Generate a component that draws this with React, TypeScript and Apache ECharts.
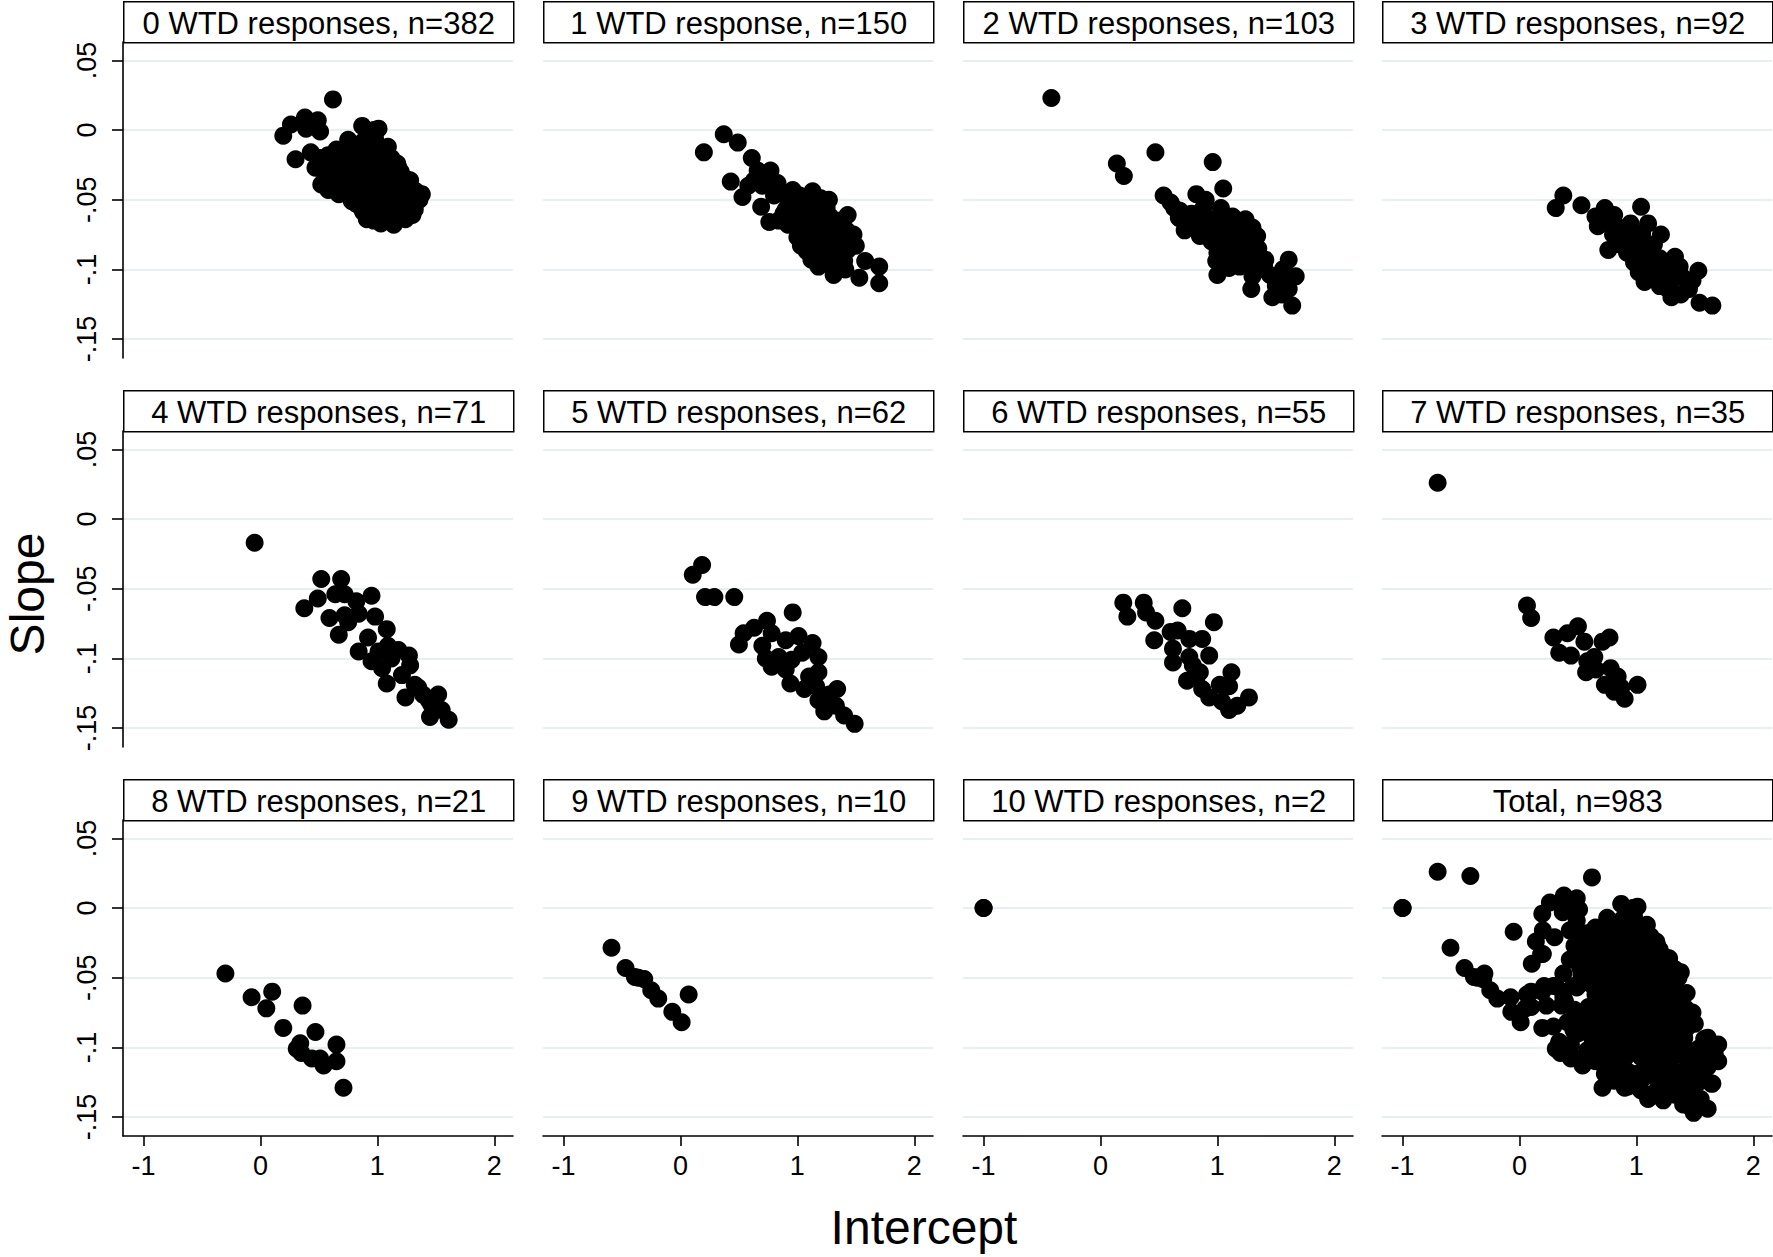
import { useRef, useEffect } from 'react'
import * as echarts from 'echarts'

// ── data: (intercept, slope) per number of WTD responses ──────────
const panelTitles = [
  '0 WTD responses, n=382', '1 WTD response, n=150', '2 WTD responses, n=103', '3 WTD responses, n=92',
  '4 WTD responses, n=71', '5 WTD responses, n=62', '6 WTD responses, n=55', '7 WTD responses, n=35',
  '8 WTD responses, n=21', '9 WTD responses, n=10', '10 WTD responses, n=2', 'Total, n=983',
]

const xTicks = [-1, 0, 1, 2]
const yTicks = [-0.15, -0.1, -0.05, 0, 0.05]

const wtd0: [number, number][] = [
  [0.62, 0.022], [0.195, -0.004], [0.26, 0.004], [0.38, 0.009], [0.49, 0.007], [0.39, 0.001], [0.51, -0.001],
  [0.30, -0.021], [0.43, -0.016], [0.51, -0.020], [0.47, -0.027], [0.65, -0.014], [0.75, -0.007], [0.87, 0.003],
  [1.01, 0.001], [1.09, -0.012], [1.18, -0.027], [1.28, -0.036], [1.38, -0.046], [1.32, -0.057], [1.24, -0.064],
  [1.14, -0.068], [0.91, -0.064], [0.87, -0.057], [0.58, -0.043], [0.52, -0.039], [0.67, -0.046], [0.78, -0.048],
  [0.92, -0.005], [0.98, -0.006], [0.80, -0.012], [0.90, -0.013], [1.00, -0.011],
  [0.66, -0.022], [0.75, -0.019], [0.85, -0.021], [0.95, -0.018], [1.05, -0.022], [1.12, -0.020],
  [0.55, -0.031], [0.63, -0.029], [0.72, -0.030], [0.82, -0.028], [0.92, -0.031], [1.02, -0.029], [1.10, -0.032], [1.20, -0.030],
  [0.62, -0.037], [0.71, -0.039], [0.80, -0.038], [0.90, -0.040], [0.99, -0.037], [1.08, -0.039], [1.17, -0.038], [1.26, -0.041],
  [0.72, -0.045], [0.84, -0.047], [0.95, -0.046], [1.04, -0.048], [1.13, -0.045], [1.22, -0.047], [1.31, -0.049],
  [0.82, -0.053], [0.93, -0.055], [1.02, -0.054], [1.11, -0.056], [1.20, -0.053], [1.28, -0.055],
  [0.97, -0.061], [1.05, -0.063], [1.12, -0.060], [1.19, -0.062], [1.30, -0.061], [1.03, -0.067], [0.97, -0.065],
  [0.60, -0.025], [0.70, -0.025], [0.80, -0.024], [0.90, -0.025], [1.00, -0.024], [1.10, -0.026], [1.17, -0.024],
  [0.58, -0.034], [0.68, -0.034], [0.77, -0.033], [0.87, -0.035], [0.96, -0.034], [1.06, -0.035], [1.15, -0.034], [1.24, -0.035],
  [0.67, -0.042], [0.76, -0.043], [0.86, -0.042], [0.95, -0.041], [1.05, -0.043], [1.14, -0.042], [1.23, -0.044], [1.33, -0.044],
  [0.78, -0.051], [0.88, -0.051], [0.98, -0.050], [1.08, -0.051], [1.17, -0.050], [1.26, -0.051], [1.36, -0.050],
  [0.88, -0.059], [0.98, -0.058], [1.08, -0.058], [1.16, -0.058], [1.25, -0.059],
  [0.85, -0.016], [0.95, -0.015], [1.05, -0.016], [0.88, -0.008], [0.97, 0.000], [0.70, -0.016], [0.58, -0.018],
]

const wtd1: [number, number][] = [
  [0.20, -0.016], [0.37, -0.003], [0.49, -0.009], [0.61, -0.020], [0.66, -0.029], [0.77, -0.029], [0.43, -0.037],
  [0.53, -0.048], [0.70, -0.040], [0.83, -0.038], [0.69, -0.055], [0.76, -0.066], [0.90, -0.057], [0.96, -0.043],
  [1.13, -0.044], [1.27, -0.050], [1.43, -0.061], [1.48, -0.075], [1.50, -0.083], [1.03, -0.083], [1.18, -0.098],
  [1.31, -0.104], [1.53, -0.106], [1.58, -0.094], [1.70, -0.098], [1.70, -0.110], [1.41, -0.100],
  [0.63, -0.036], [0.74, -0.034], [0.80, -0.047], [0.84, -0.065],
  [0.92, -0.050], [1.02, -0.047], [1.10, -0.052], [1.20, -0.049],
  [0.88, -0.060], [0.98, -0.058], [1.08, -0.061], [1.18, -0.059], [1.28, -0.062],
  [0.92, -0.068], [1.02, -0.070], [1.12, -0.067], [1.22, -0.071], [1.33, -0.069], [1.42, -0.072],
  [1.00, -0.077], [1.10, -0.079], [1.20, -0.076], [1.30, -0.080], [1.40, -0.078],
  [1.08, -0.087], [1.18, -0.085], [1.27, -0.089], [1.38, -0.088], [1.12, -0.093], [1.23, -0.095], [1.35, -0.094],
  [0.95, -0.054], [1.05, -0.056], [1.15, -0.055], [1.25, -0.056], [0.97, -0.064], [1.07, -0.065], [1.17, -0.064],
  [1.27, -0.066], [1.37, -0.065], [1.05, -0.074], [1.15, -0.073], [1.25, -0.075], [1.35, -0.074], [1.45, -0.079],
  [1.13, -0.083], [1.23, -0.081], [1.33, -0.084], [1.43, -0.086], [1.18, -0.091], [1.30, -0.099], [1.40, -0.094],
  [0.58, -0.040], [0.85, -0.045],
]

const wtd2: [number, number][] = [
  [-0.42, 0.023], [0.14, -0.024], [0.20, -0.033], [0.47, -0.016], [0.96, -0.023], [0.54, -0.047], [0.63, -0.056],
  [0.72, -0.072], [0.67, -0.063], [0.82, -0.046], [1.05, -0.042], [0.90, -0.050], [1.03, -0.056], [1.13, -0.062],
  [1.24, -0.064], [1.34, -0.076], [0.85, -0.076], [0.99, -0.094], [1.00, -0.104], [1.29, -0.114], [1.41, -0.093],
  [1.47, -0.120], [1.61, -0.093], [1.67, -0.105], [1.64, -0.126], [1.61, -0.114], [1.53, -0.107], [1.19, -0.098],
  [1.30, -0.105],
  [0.78, -0.060], [0.88, -0.062], [0.97, -0.064], [1.06, -0.066], [1.17, -0.068],
  [0.80, -0.068], [0.92, -0.071], [1.02, -0.073], [1.12, -0.072], [1.22, -0.074], [1.30, -0.070],
  [0.95, -0.080], [1.05, -0.082], [1.15, -0.081], [1.25, -0.083], [1.35, -0.085],
  [1.00, -0.088], [1.10, -0.090], [1.20, -0.089], [1.30, -0.092], [1.40, -0.098],
  [1.10, -0.099], [1.50, -0.112], [1.56, -0.100],
  [0.85, -0.066], [0.95, -0.068], [1.08, -0.069], [0.88, -0.056], [1.00, -0.077], [1.10, -0.077], [1.20, -0.078],
  [1.30, -0.079], [1.05, -0.093], [1.15, -0.094], [1.25, -0.096], [1.35, -0.100], [1.45, -0.104], [1.55, -0.118],
  [1.60, -0.106], [0.68, -0.058], [0.75, -0.066], [0.60, -0.052],
]

const wtd3: [number, number][] = [
  [0.375, -0.047], [0.31, -0.056], [0.53, -0.054], [0.73, -0.056], [0.81, -0.061], [0.67, -0.069], [0.76, -0.086],
  [1.04, -0.055], [1.10, -0.067], [0.95, -0.067], [1.21, -0.075], [0.90, -0.079], [0.98, -0.095], [1.07, -0.109],
  [1.33, -0.091], [1.37, -0.098], [1.53, -0.101], [1.45, -0.114], [1.30, -0.120], [1.54, -0.124], [1.65, -0.126],
  [1.18, -0.107], [1.13, -0.088],
  [0.85, -0.070], [0.72, -0.064], [0.80, -0.075], [0.98, -0.078], [1.05, -0.080], [1.00, -0.086], [1.08, -0.090],
  [1.20, -0.092], [1.25, -0.100], [1.12, -0.100], [1.02, -0.102], [1.20, -0.112], [1.30, -0.108], [1.40, -0.106],
  [1.38, -0.118], [0.92, -0.088],
  [0.95, -0.072], [1.05, -0.074], [0.88, -0.073], [0.85, -0.082], [0.95, -0.083], [1.15, -0.082], [1.15, -0.095],
  [1.05, -0.095], [1.30, -0.100], [1.25, -0.113], [1.48, -0.108], [0.65, -0.062], [0.78, -0.068],
]

const wtd4: [number, number][] = [
  [-0.05, -0.017], [0.52, -0.043], [0.69, -0.043], [0.49, -0.057], [0.375, -0.064], [0.64, -0.054], [0.72, -0.054],
  [0.82, -0.059], [0.95, -0.055], [0.59, -0.071], [0.72, -0.069], [0.75, -0.074], [0.84, -0.068], [0.98, -0.070],
  [0.67, -0.083], [1.08, -0.079], [0.92, -0.085], [0.84, -0.095], [0.95, -0.102], [1.09, -0.091], [1.18, -0.094],
  [1.27, -0.098], [1.28, -0.105], [1.08, -0.118], [1.21, -0.112], [1.24, -0.128], [1.35, -0.121], [1.39, -0.126],
  [1.52, -0.126], [1.46, -0.133], [1.55, -0.137], [1.45, -0.142], [1.61, -0.144], [1.04, -0.107], [1.01, -0.095],
  [1.12, -0.100], [1.32, -0.119], [1.44, -0.130],
]

const wtd5: [number, number][] = [
  [0.185, -0.033], [0.105, -0.040], [0.21, -0.056], [0.29, -0.056], [0.46, -0.056], [0.96, -0.067], [0.74, -0.073],
  [0.63, -0.078], [0.54, -0.082], [0.50, -0.090], [0.78, -0.082], [0.90, -0.087], [1.01, -0.084], [0.70, -0.091],
  [1.13, -0.089], [1.18, -0.099], [0.73, -0.100], [0.78, -0.106], [0.90, -0.108], [1.04, -0.096], [0.94, -0.118],
  [1.06, -0.122], [1.18, -0.110], [1.16, -0.120], [1.34, -0.122], [1.18, -0.130], [1.23, -0.138], [1.33, -0.134],
  [1.40, -0.141], [1.49, -0.147], [0.84, -0.099], [0.95, -0.101], [1.10, -0.113], [1.27, -0.126],
]

const wtd6: [number, number][] = [
  [0.195, -0.060], [0.23, -0.070], [0.37, -0.060], [0.39, -0.067], [0.47, -0.073], [0.70, -0.064], [0.97, -0.074],
  [0.46, -0.087], [0.60, -0.081], [0.66, -0.080], [0.62, -0.093], [0.76, -0.086], [0.87, -0.086], [0.93, -0.098],
  [0.62, -0.103], [0.76, -0.099], [0.74, -0.116], [0.85, -0.110], [0.87, -0.122], [1.12, -0.110], [1.02, -0.119],
  [1.10, -0.120], [0.93, -0.128], [1.04, -0.131], [1.10, -0.137], [1.17, -0.134], [1.27, -0.128], [0.82, -0.114],
  [0.79, -0.105],
]

const wtd7: [number, number][] = [
  [-0.70, 0.026], [0.064, -0.062], [0.10, -0.071], [0.29, -0.085], [0.41, -0.082], [0.50, -0.077], [0.34, -0.096],
  [0.44, -0.098], [0.555, -0.088], [0.64, -0.099], [0.71, -0.088], [0.77, -0.085], [0.57, -0.110], [0.58, -0.102],
  [0.78, -0.107], [0.84, -0.113], [0.73, -0.119], [0.81, -0.124], [0.90, -0.129], [1.01, -0.119], [0.87, -0.121],
  [0.655, -0.108],
]

const wtd8: [number, number][] = [
  [-0.30, -0.047], [-0.076, -0.064], [0.10, -0.060], [0.05, -0.072], [0.36, -0.070], [0.195, -0.086], [0.47, -0.089],
  [0.34, -0.097], [0.31, -0.101], [0.35, -0.104], [0.44, -0.108], [0.51, -0.108], [0.54, -0.113], [0.65, -0.098],
  [0.65, -0.110], [0.71, -0.129],
]

const wtd9: [number, number][] = [
  [-0.59, -0.0285], [-0.47, -0.043], [-0.39, -0.0495], [-0.36, -0.050], [-0.31, -0.051], [-0.25, -0.059],
  [-0.19, -0.065], [-0.07, -0.0745], [0.01, -0.082], [0.07, -0.062],
]

const wtd10: [number, number][] = [[-1, 0], [-1, 0]]

const panels = [wtd0, wtd1, wtd2, wtd3, wtd4, wtd5, wtd6, wtd7, wtd8, wtd9, wtd10]
const total = panels.flat()

// ── layout ─────────────────────────────────────────────────────────
const COL_LEFT = [123, 543, 963, 1382]
const ROW_TOP = [42, 431, 820]
const PW = 390
const PH = 316
const TITLE_H = 41
const FONT = '"Liberation Sans", Arial, Helvetica, sans-serif'
const GRID_COLOR = '#e6eff2'

const fmtY = (v: number) => (v === 0 ? '0' : String(+v.toFixed(2)).replace('0.', '.'))

function buildOption(): echarts.EChartsOption {
  const grids: any[] = []
  const xAxes: any[] = []
  const yAxes: any[] = []
  const series: any[] = []
  const graphics: any[] = []
  const allData = [...panels, total]

  allData.forEach((data, i) => {
    const col = i % 4
    const row = Math.floor(i / 4)
    const left = COL_LEFT[col]
    const top = ROW_TOP[row]
    const bottomRow = row === 2
    const firstCol = col === 0

    grids.push({ left, top, width: PW, height: PH, containLabel: false })

    xAxes.push({
      type: 'value', gridIndex: i, min: -1.176, max: 2.16,
      axisLine: { show: bottomRow, onZero: false, lineStyle: { color: '#000', width: 1.6 } },
      axisTick: { show: bottomRow, length: 10, customValues: xTicks, lineStyle: { color: '#000', width: 1.6 } },
      axisLabel: {
        show: bottomRow, customValues: xTicks, margin: 16,
        color: '#000', fontSize: 27, fontFamily: FONT,
      },
      splitLine: { show: false },
    })

    yAxes.push({
      type: 'value', gridIndex: i, min: -0.1636, max: 0.0632,
      axisLine: { show: firstCol, onZero: false, lineStyle: { color: '#000', width: 1.6 } },
      axisTick: { show: firstCol, length: 11, customValues: yTicks, lineStyle: { color: '#000', width: 1.6 } },
      axisLabel: {
        show: firstCol, customValues: yTicks, rotate: 90, margin: 23,
        color: '#000', fontSize: 27, fontFamily: FONT,
        formatter: fmtY,
      },
      splitLine: { show: true, lineStyle: { color: GRID_COLOR, width: 1.8 } },
    })

    series.push({
      type: 'scatter', xAxisIndex: i, yAxisIndex: i,
      data, symbol: 'circle', symbolSize: 18, silent: true,
      itemStyle: { color: '#000', opacity: 1 },
    })

    // 子图标题框
    graphics.push({
      type: 'group', left, top: top - TITLE_H,
      children: [
        {
          type: 'rect', shape: { x: 0, y: 0, width: PW, height: TITLE_H },
          style: { fill: '#fff', stroke: '#000', lineWidth: 1.5 },
        },
        {
          type: 'text', x: PW / 2, y: TITLE_H / 2 + 1,
          style: {
            text: panelTitles[i], fill: '#000', font: `31px ${FONT}`,
            textAlign: 'center', textVerticalAlign: 'middle',
          },
        },
      ],
    })
  })

  graphics.push(
    {
      type: 'text', x: 27, y: 594, rotation: Math.PI / 2,
      style: { text: 'Slope', fill: '#000', font: `48px ${FONT}`, textAlign: 'center', textVerticalAlign: 'middle' },
    },
    {
      type: 'text', x: 924, y: 1227,
      style: { text: 'Intercept', fill: '#000', font: `48px ${FONT}`, textAlign: 'center', textVerticalAlign: 'middle' },
    },
  )

  return {
    animation: false,
    backgroundColor: '#fff',
    grid: grids,
    xAxis: xAxes,
    yAxis: yAxes,
    series,
    graphic: graphics,
  } as echarts.EChartsOption
}

export default function App() {
  const ref = useRef<HTMLDivElement>(null)

  useEffect(() => {
    if (!ref.current) return
    const chart = echarts.init(ref.current, undefined, { renderer: 'svg' })
    chart.setOption(buildOption())
    return () => chart.dispose()
  }, [])

  return (
    <div
      ref={ref}
      style={{ position: 'absolute', left: 0, top: 0, width: 1773, height: 1257, background: '#fff' }}
    />
  )
}
